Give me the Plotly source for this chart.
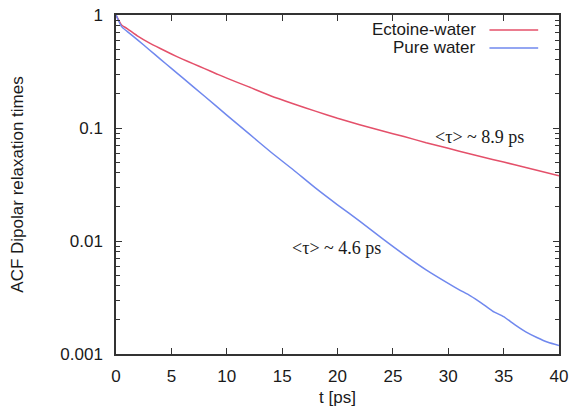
import math
import plotly.graph_objects as go

# Ectoine-water
t_ect = [0, 0.5, 1, 2, 3, 4, 5, 6, 7, 8, 9, 10, 12, 14, 16, 18, 20, 22, 24, 26, 28, 30, 32, 34, 36, 38, 40]
acf_ect = [1.0, 0.817, 0.759, 0.646, 0.566, 0.505, 0.452, 0.407, 0.369, 0.335, 0.304, 0.276, 0.231, 0.192,
           0.164, 0.141, 0.122, 0.107, 0.0944, 0.0841, 0.0741, 0.0661, 0.0589, 0.0527, 0.0473, 0.0422, 0.0378]

# Pure water
t_wat = [0, 0.5, 1, 2, 3, 4, 5, 6, 8, 10, 12, 14, 16, 18, 20, 22, 24, 26, 28, 30, 31, 32, 33, 34, 35, 36, 37, 38, 39, 40]
acf_wat = [1.0, 0.789, 0.716, 0.596, 0.493, 0.407, 0.337, 0.279, 0.191, 0.130, 0.0891, 0.0610, 0.0427, 0.0295,
           0.0209, 0.0150, 0.0106, 0.00759, 0.00556, 0.00422, 0.00370, 0.00327, 0.00282, 0.00240, 0.00214,
           0.00182, 0.00157, 0.00140, 0.00127, 0.00119]

x_ticks = [0, 5, 10, 15, 20, 25, 30, 35, 40]
y_ticks = [1, 0.1, 0.01, 0.001]
y_ticktext = ["1", "0.1", "0.01", "0.001"]
y_minor = [m * 10 ** e for e in (-3, -2, -1) for m in range(2, 10)]

series_names = ["Ectoine-water", "Pure water"]
colors = ["#e4506a", "#7088ee"]

ann_labels = ["&lt;τ&gt; ~ 8.9 ps", "&lt;τ&gt; ~ 4.6 ps"]
ann_t = [32.8, 19.95]
ann_y = [0.0836, 0.00875]

FONT = "Liberation Sans, Arial, sans-serif"
TXT = "#1a1a1a"

fig = go.Figure()
fig.add_trace(go.Scatter(x=t_ect, y=acf_ect, mode="lines", name=series_names[0],
                         line=dict(color=colors[0], width=1.5, shape="spline", smoothing=0.5)))
fig.add_trace(go.Scatter(x=t_wat, y=acf_wat, mode="lines", name=series_names[1],
                         line=dict(color=colors[1], width=1.5, shape="spline", smoothing=0.5)))

for lab, tx, ty in zip(ann_labels, ann_t, ann_y):
    fig.add_annotation(x=tx, y=math.log10(ty), xref="x", yref="y", text=lab, showarrow=False,
                       font=dict(family="Liberation Serif, Times New Roman, serif", size=18, color=TXT))

# custom legend (text right, sample line to the right)
leg_y = [0.956, 0.903]
for name, col, ly in zip(series_names, colors, leg_y):
    fig.add_annotation(x=0.818, y=ly, xref="paper", yref="paper", text=name, showarrow=False,
                       xanchor="right", yanchor="middle", font=dict(family=FONT, size=17, color=TXT))
    fig.add_shape(type="line", xref="paper", yref="paper", x0=0.843, x1=0.953, y0=ly, y1=ly,
                  line=dict(color=col, width=1.5))

axis_common = dict(showline=True, linecolor="#333333", linewidth=1.5, mirror="ticks", ticks="inside",
                   tickcolor="#333333", tickwidth=1.2, showgrid=False, zeroline=False, automargin=False,
                   tickfont=dict(family=FONT, size=17, color=TXT))

fig.update_xaxes(range=[0, 40], tickvals=x_ticks, ticklen=6, ticklabelstandoff=6,
                 title=dict(text="t [ps]", font=dict(family=FONT, size=17, color=TXT), standoff=6),
                 **axis_common)
fig.update_yaxes(type="log", range=[-3, 0], tickvals=y_ticks, ticktext=y_ticktext, ticklen=6,
                 ticklabelstandoff=8,
                 minor=dict(tickvals=y_minor, ticks="inside", ticklen=4, tickcolor="#333333", tickwidth=1.2,
                            showgrid=False),
                 title=dict(text="ACF Dipolar relaxation times", font=dict(family=FONT, size=17, color=TXT),
                            standoff=32),
                 **axis_common)

fig.update_layout(width=574, height=411, margin=dict(l=116, r=15, t=15, b=57),
                  plot_bgcolor="white", paper_bgcolor="white", showlegend=False,
                  font=dict(family=FONT, color=TXT))

fig.write_html("out.html")
